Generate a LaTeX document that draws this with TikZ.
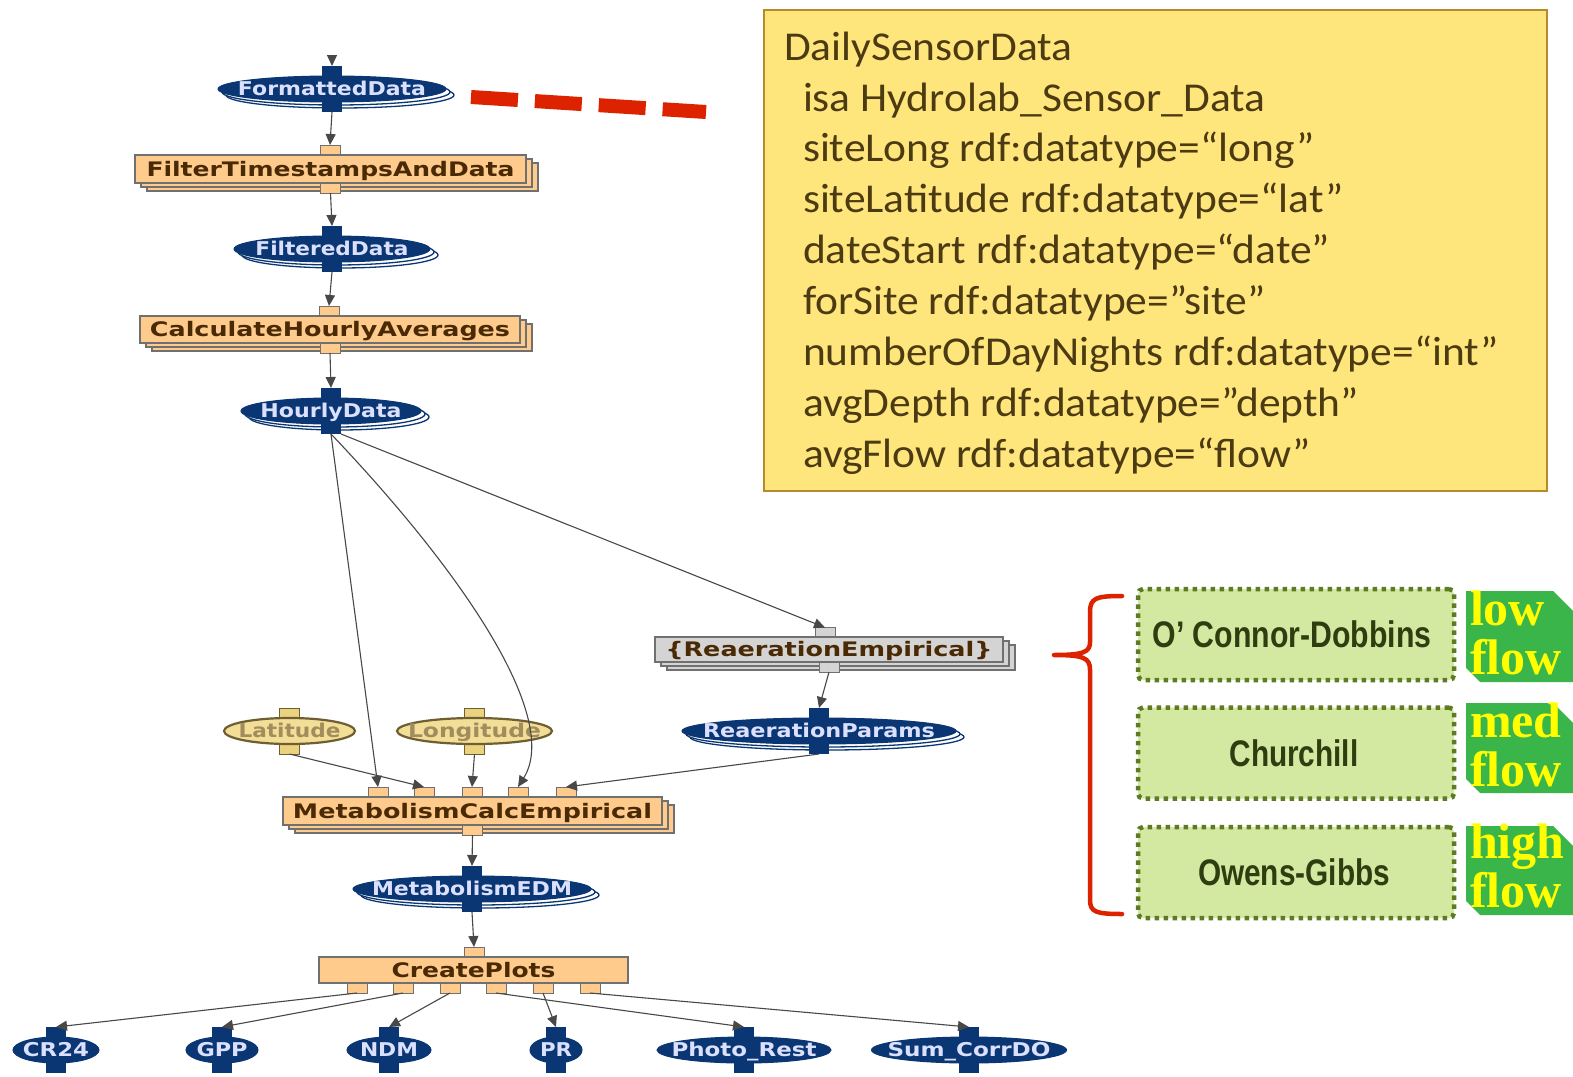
\documentclass[tikz,border=0pt]{standalone}
\usepackage{fontspec}
\usepackage{graphicx}
\usetikzlibrary{shapes.geometric,arrows.meta}
\setmainfont{Carlito}
\newfontfamily\yfont[FakeStretch=1.06]{Carlito}
\newfontfamily\wfont{DejaVu Sans}
\newfontfamily\gfont{Liberation Sans}
\newfontfamily\tfont{Liberation Serif}
\definecolor{navy}{HTML}{0A3673}
\definecolor{lav}{HTML}{DCE0FF}
\definecolor{orf}{HTML}{FFCB8C}
\definecolor{brn}{HTML}{4A2A05}
\definecolor{gline}{HTML}{707070}
\definecolor{tanf}{HTML}{F3DE98}
\definecolor{tanp}{HTML}{EBD27F}
\definecolor{tand}{HTML}{6E5E32}
\definecolor{tant}{HTML}{A08C5C}
\definecolor{grf}{HTML}{D4D4D4}
\definecolor{ylf}{HTML}{FFE67C}
\definecolor{ylb}{HTML}{B88A2E}
\definecolor{ylt}{HTML}{4B3A12}
\definecolor{redd}{HTML}{DD2200}
\definecolor{lgf}{HTML}{D3E9A2}
\definecolor{lgb}{HTML}{5E7A22}
\definecolor{lgt}{HTML}{2E3E10}
\definecolor{tagg}{HTML}{3AB54A}
\definecolor{tagy}{HTML}{FFFF00}
\definecolor{edgec}{HTML}{484848}
\newcommand\fitw[2]{\resizebox{#1pt}{\height}{#2}}
\tikzset{
  every node/.style={inner sep=0pt, outer sep=0pt},
  arr/.style={draw=edgec, line width=1.1pt, -{Triangle[length=11pt,width=10pt]}},
  elllayer/.style={ellipse, draw=navy, fill=white, line width=1.3pt},
  bell/.style={ellipse, draw=navy, fill=navy, line width=1pt},
  btext/.style={text=lav, font=\wfont\bfseries\fontsize{19}{19}\selectfont, text height=13.8pt, text depth=0pt},
  bport/.style={rectangle, fill=navy, minimum width=20pt, minimum height=14pt},
  pbox/.style={rectangle, draw=gline, line width=1.3pt, text=brn, font=\wfont\bfseries\fontsize{20}{20}\selectfont, text height=14.5pt, text depth=0pt},
  pport/.style={rectangle, draw=gline, line width=1pt, minimum width=20pt, minimum height=10pt},
  tell/.style={ellipse, draw=tand, fill=tanf, line width=2.2pt},
  ttext/.style={text=tant, font=\wfont\bfseries\fontsize{19}{19}\selectfont, text height=13.8pt, text depth=0pt},
  tport/.style={rectangle, draw=tand, fill=tanp, line width=1pt, minimum width=20pt, minimum height=14pt},
  ylline/.style={anchor=base west, text=ylt, font=\yfont\fontsize{41}{51}\selectfont},
  mbox/.style={draw=lgb, fill=lgf, line width=4.5pt, dash pattern=on 4.5pt off 4.5pt, rounded corners=5pt, minimum width=316pt, minimum height=91pt},
  mtext/.style={text=lgt, font=\gfont\bfseries\fontsize{37}{37}\selectfont, text height=26.5pt, text depth=0pt},
  tagtext/.style={anchor=base west, text=tagy, font=\tfont\bfseries\fontsize{50}{50}\selectfont},
}
% name, x, y, w, h, text width, text
\newcommand\dataset[7]{%
  \node[elllayer, minimum width=#4, minimum height=#5] (#1-l2) at ({#2+8},{#3+6}) {};
  \node[elllayer, minimum width=#4, minimum height=#5] (#1-l1) at ({#2+4},{#3+3}) {};
  \node[bport] (#1-t) at (#2,{#3-#5/2-3}) {};
  \node[bport] (#1-b) at (#2,{#3+#5/2+3}) {};
  \node[bell, minimum width=#4, minimum height=#5] (#1) at (#2,#3) {};
  \node[btext] (#1-txt) at (#2,#3) {\fitw{#6}{#7}};
}
% name, x, w, text width, text
\newcommand\outds[5]{%
  \node[bport] (#1-t) at (#2,1034) {};
  \node[bport] (#1-b) at (#2,1066) {};
  \node[bell, minimum width=#3, minimum height=26] (#1) at (#2,1050) {};
  \node[btext] (#1-txt) at (#2,1050) {\fitw{#4}{#5}};
}
% name, x, y, w, h, fill, text width, text
\newcommand\procbox[8]{%
  \node[pbox, fill=#6, minimum width=#4, minimum height=#5] (#1-l2) at ({#2+12},{#3+8}) {};
  \node[pbox, fill=#6, minimum width=#4, minimum height=#5] (#1-l1) at ({#2+6},{#3+4}) {};
  \node[pport, fill=#6] (#1-b) at (#2,{#3+#5/2+5}) {};
  \node[pbox, fill=#6, minimum width=#4, minimum height=#5] (#1) at (#2,#3) {\fitw{#7}{#8}};
}
\newcommand\tagshape[2]{%
  \fill[tagg] (1466,#1) -- (1553,#1) -- (1573,{#1+20}) -- (1573,#2) -- (1480,#2) -- (1466,{#2-14}) -- cycle;
}
\begin{document}
\begin{tikzpicture}[x=1pt,y=-1pt]
\useasboundingbox (0,0) rectangle (1573,1076);
\fill[white] (0,0) rectangle (1573,1076);

% ---------- yellow note ----------
\node[draw=ylb, fill=ylf, line width=2pt, minimum width=783, minimum height=481, anchor=north west] (yb) at (764,10) {};
\node[ylline] (y0) at (784,60) {DailySensorData};
\node[ylline] (y1) at (803,111) {isa Hydrolab\_Sensor\_Data};
\node[ylline] (y2) at (803,161) {siteLong rdf:datatype=“long”};
\node[ylline] (y3) at (803,212) {siteLatitude rdf:datatype=“lat”};
\node[ylline] (y4) at (803,263) {dateStart rdf:datatype=“date”};
\node[ylline] (y5) at (803,314) {forSite rdf:datatype=”site”};
\node[ylline] (y6) at (803,365) {numberOfDayNights rdf:datatype=“int”};
\node[ylline] (y7) at (803,416) {avgDepth rdf:datatype=”depth”};
\node[ylline] (y8) at (803,467) {avgFlow rdf:datatype=“flow”};

\coordinate (rd1) at (471,97);
\coordinate (rd2) at (706,112);
\draw[redd, line width=14pt, dash pattern=on 47pt off 17pt] (rd1) -- (rd2);

% ---------- workflow ----------
\dataset{FD}{332}{89}{228}{26}{188}{FormattedData}
\node[pport, fill=orf] (FT-t) at (330,150) {};
\procbox{FT}{330.5}{169}{391}{28}{orf}{368}{FilterTimestampsAndData}
\dataset{FID}{332}{249}{196}{26}{153}{FilteredData}
\node[pport, fill=orf] (CH-t) at (329,311) {};
\procbox{CH}{330}{329.5}{380}{27}{orf}{360}{CalculateHourlyAverages}
\dataset{HD}{331}{411}{180}{26}{141}{HourlyData}

\node[pport, fill=grf] (RE-t) at (825,632.5) {};
\procbox{RE}{829}{649.5}{348}{25}{grf}{327}{\{ReaerationEmpirical\}}
\dataset{RP}{819}{731}{274}{26}{232}{ReaerationParams}

\node[tport] (LA-t) at (289.5,715) {};
\node[tport] (LA-b) at (289.5,747) {};
\node[tell, minimum width=131, minimum height=26] (LA) at (289.5,731) {};
\node[ttext] (LA-txt) at (289.5,731) {\fitw{102}{Latitude}};
\node[tport] (LO-t) at (474.5,715) {};
\node[tport] (LO-b) at (474.5,747) {};
\node[tell, minimum width=155, minimum height=26] (LO) at (474.5,731) {};
\node[ttext] (LO-txt) at (474.5,731) {\fitw{133}{Longitude}};

\foreach \i/\px in {1/378,2/424,3/472,4/518,5/566}
  \node[pport, fill=orf] (MC-p\i) at (\px,792) {};
\procbox{MC}{472.5}{811}{379}{28}{orf}{359}{MetabolismCalcEmpirical}
\dataset{ED}{472}{889}{238}{26}{200}{MetabolismEDM}

\node[pport, fill=orf] (CP-t) at (474,952) {};
\foreach \i/\px in {1/357,2/403,3/450,4/496,5/543,6/590}
  \node[pport, fill=orf] (CP-b\i) at (\px,988) {};
\node[pbox, fill=orf, minimum width=309, minimum height=26] (CP) at (473.5,970) {\fitw{164}{CreatePlots}};

\outds{CR}{56}{86}{66}{CR24}
\outds{GP}{222}{72}{51}{GPP}
\outds{ND}{389}{84}{58}{NDM}
\outds{PR}{556}{52}{32}{PR}
\outds{PH}{744}{174}{145}{Photo\_Rest}
\outds{SC}{969}{195}{163}{Sum\_CorrDO}

% edges
\coordinate (FD-in) at (332,56);
\draw[arr] (FD-in) -- (FD-t.north);
\draw[arr] (FD-b.south) -- (FT-t.north);
\draw[arr] (FT-b.south) -- (FID-t.north);
\draw[arr] (FID-b.south) -- (CH-t.north);
\draw[arr] (CH-b.south) -- (HD-t.north);
\draw[arr] (HD-b.south) -- (MC-p1.north);
\draw[arr] (HD-b.south) .. controls (470,580) and (560,720) .. (MC-p4.north);
\draw[arr] (HD-b.south east) -- (RE-t.north);
\draw[arr] (RE-b.south) -- (RP-t.north);
\draw[arr] (RP-b.south) -- (MC-p5.north);
\draw[arr] (LA-b.south) -- (MC-p2.north);
\draw[arr] (LO-b.south) -- (MC-p3.north);
\draw[arr] (MC-b.south) -- (ED-t.north);
\draw[arr] (ED-b.south) -- (CP-t.north);
\draw[arr] (CP-b1.south) -- (CR-t.north);
\draw[arr] (CP-b2.south) -- (GP-t.north);
\draw[arr] (CP-b3.south) -- (ND-t.north);
\draw[arr] (CP-b4.south) -- (PH-t.north);
\draw[arr] (CP-b5.south) -- (PR-t.north);
\draw[arr] (CP-b6.south) -- (SC-t.north);

% ---------- right side ----------
\draw[redd, line width=4.5pt, line cap=round, line join=round]
  (1122,596) .. controls (1096,596) and (1090,598) .. (1090,612) -- (1090,642)
  .. controls (1090,652) and (1084,655) .. (1054,655)
  .. controls (1084,655) and (1090,658) .. (1090,670) -- (1090,900)
  .. controls (1090,912) and (1096,914) .. (1122,914);

\node[mbox] (oc) at (1296,634.5) {};
\node[mtext] (oc-txt) at (1292,634.5) {\fitw{279}{O’ Connor-Dobbins}};
\node[mbox] (ch) at (1296,753) {};
\node[mtext] (ch-txt) at (1294,753) {\fitw{129}{Churchill}};
\node[mbox] (og) at (1296,872.5) {};
\node[mtext] (og-txt) at (1294,872.5) {\fitw{192}{Owens-Gibbs}};

\tagshape{591}{682}
\node[tagtext] (t1a) at (1470,625) {low};
\node[tagtext] (t1b) at (1470,674) {flow};
\tagshape{703}{793}
\node[tagtext] (t2a) at (1470,737) {med};
\node[tagtext] (t2b) at (1470,786) {flow};
\tagshape{826}{915}
\node[tagtext] (t3a) at (1470,858) {high};
\node[tagtext] (t3b) at (1470,907) {flow};
\end{tikzpicture}
\end{document}
